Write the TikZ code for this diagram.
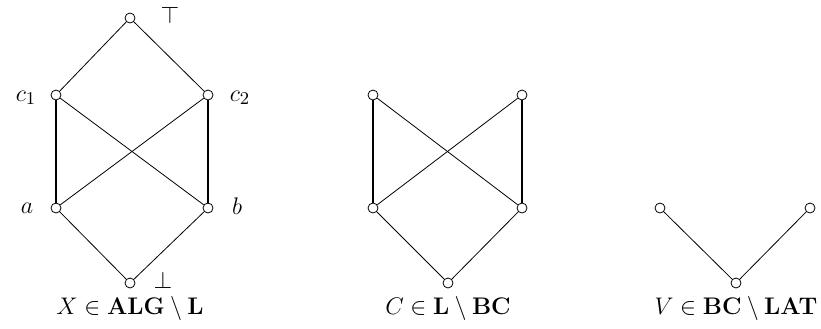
\documentclass[tikz,border=0pt]{standalone}
\begin{document}
\begin{tikzpicture}[x=0.5pt, y=-0.5pt,
            vertex/.style={circle, draw, fill=white, minimum size=5pt, inner sep=0pt},
            lbl/.style={font=\fontsize{13}{15}\selectfont},
            heavy/.style={line width=1.3pt},
            medium/.style={line width=0.8pt}
            ]
            \useasboundingbox (0,0) rectangle (821,328);
            % X
            \node[vertex] (top) at (130,18) {};
            \node[vertex] (c1) at (56,95) {};
            \node[vertex] (c2) at (208,95) {};
            \node[vertex] (a) at (56,208) {};
            \node[vertex] (b) at (208,208) {};
            \node[vertex] (bot) at (130,283) {};
            \node[lbl] at (170,15) {$\top$};
            \node[lbl] at (26,98) {$c_1$};
            \node[lbl] at (240,98) {$c_2$};
            \node[lbl] at (27,208) {$a$};
            \node[lbl] at (237,206) {$b$};
            \node[lbl] at (163,280) {$\bot$};
            \node[lbl] (capx) at (130,308) {$X\in\mathbf{ALG}\setminus\mathbf{L}$};

            \draw (c1)--(top)--(c2);
            \draw (c1)--(b);
            \draw (c2)--(a);
            \draw (a)--(bot)--(b);
            \draw[heavy] (c1)--(a);
            \draw[heavy] (c2)--(b);
            % C
            \node[vertex] (p1) at (373,95) {};
            \node[vertex] (p2) at (522,95) {};
            \node[vertex] (q1) at (373,208) {};
            \node[vertex] (q2) at (522,208) {};
            \node[vertex] (r) at (448,283) {};
            \node[lbl] (capc) at (448,308) {$C\in\mathbf{L}\setminus\mathbf{BC}$};

            \draw (p1)--(q2);
            \draw (p2)--(q1);
            \draw (q1)--(r)--(q2);
            \draw[heavy] (p1)--(q1);
            \draw[medium] (p2)--(q2);
            % V
            \node[vertex] (v1) at (660,208) {};
            \node[vertex] (v2) at (810,208) {};
            \node[vertex] (v0) at (736,283) {};
            \node[lbl] (capv) at (736,308) {$V\in\mathbf{BC}\setminus\mathbf{LAT}$};

            \draw (v1)--(v0)--(v2);
\end{tikzpicture}
\end{document}
